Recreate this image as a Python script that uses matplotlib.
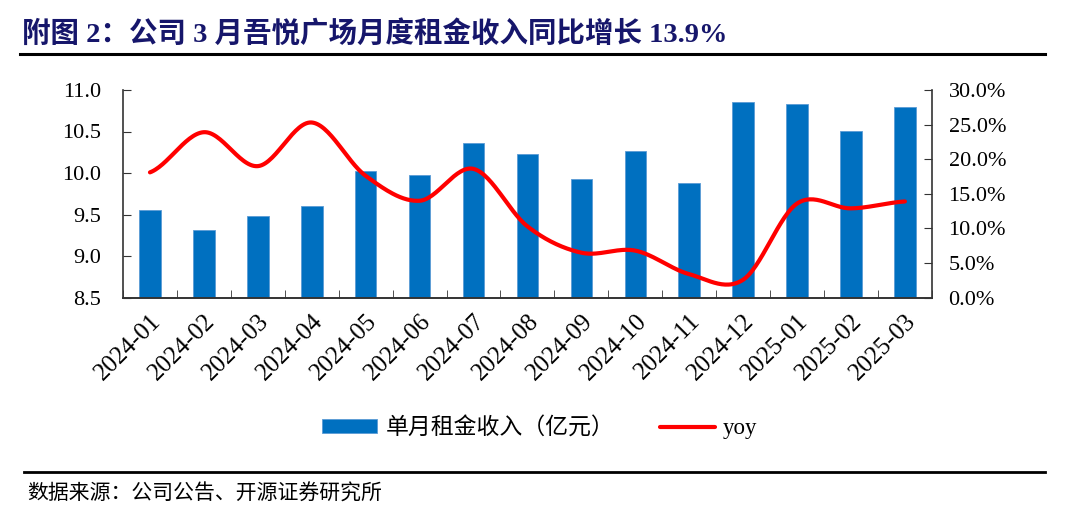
import numpy as np
import matplotlib
matplotlib.use("Agg")
import matplotlib.pyplot as plt
from matplotlib.ticker import FixedLocator, PercentFormatter

# ----- data -----
months = ["2024-01", "2024-02", "2024-03", "2024-04", "2024-05", "2024-06",
          "2024-07", "2024-08", "2024-09", "2024-10", "2024-11", "2024-12",
          "2025-01", "2025-02", "2025-03"]
rent = [9.55, 9.31, 9.48, 9.60, 10.03, 9.98, 10.36, 10.23, 9.93, 10.27,
        9.88, 10.85, 10.83, 10.51, 10.80]
yoy = [18.1, 23.9, 19.0, 25.3, 17.6, 14.0, 18.6, 10.3, 6.5, 6.8,
       3.4, 2.6, 13.6, 12.9, 13.9]

title = "附图 2：公司 3 月吾悦广场月度租金收入同比增长 13.9%"
source = "数据来源：公司公告、开源证券研究所"
bar_label = "单月租金收入（亿元）"
line_label = "yoy"

SERIF = ["Liberation Serif", "Noto Sans CJK SC"]
BLUE = "#0070C0"
RED = "#FF0000"
NAVY = "#16166B"


def smooth(y, n=30):
    """Catmull-Rom curve through the points (Excel style 'smoothed line')."""
    y = np.asarray(y, float)
    x = np.arange(len(y), dtype=float)
    p = np.concatenate([[y[0]], y, [y[-1]]])
    xs, ys = [], []
    t = np.linspace(0, 1, n, endpoint=False)
    for i in range(len(y) - 1):
        p0, p1, p2, p3 = p[i], p[i + 1], p[i + 2], p[i + 3]
        seg = 0.5 * ((2 * p1) + (-p0 + p2) * t + (2 * p0 - 5 * p1 + 4 * p2 - p3) * t ** 2
                     + (-p0 + 3 * p1 - 3 * p2 + p3) * t ** 3)
        xs.append(x[i] + t)
        ys.append(seg)
    xs.append([x[-1]])
    ys.append([y[-1]])
    return np.concatenate(xs), np.concatenate(ys)


fig = plt.figure(figsize=(10.65, 5.26), dpi=100)
ax = fig.add_axes([0.1155, 0.434, 0.7595, 0.395])
ax2 = ax.twinx()

x = np.arange(len(months))
bars = ax.bar(x, rent, width=0.4, color=BLUE, edgecolor="#5B9BD5", linewidth=0.6,
              label=bar_label, zorder=2)
sx, sy = smooth(yoy)
line, = ax2.plot(sx, sy, color=RED, lw=3.0, solid_capstyle="round", label=line_label)

ax.set_xlim(-0.5, len(months) - 0.5)
ax.set_ylim(8.5, 11.0)
ax.set_yticks(np.arange(8.5, 11.01, 0.5))
ax.set_yticklabels([f"{v:.1f}" for v in np.arange(8.5, 11.01, 0.5)])
ax2.set_ylim(0, 30)
ax2.set_yticks(np.arange(0, 30.1, 5))
ax2.yaxis.set_major_formatter(PercentFormatter(decimals=1))

ax.set_xticks(x)
ax.set_xticklabels(months, rotation=45, ha="right", rotation_mode="anchor")
ax.xaxis.set_minor_locator(FixedLocator(np.arange(-0.5, len(months), 1)))
ax.tick_params(axis="x", which="major", length=0, pad=9)
ax.tick_params(axis="x", which="minor", length=6, direction="in", color="#333333")

for a in (ax, ax2):
    a.spines["top"].set_visible(False)
    for s in a.spines.values():
        s.set_color("#333333")
        s.set_linewidth(1.2)
    for lab in a.get_yticklabels():
        lab.set_family(SERIF)
        lab.set_fontsize(16)
for lab in ax.get_xticklabels():
    lab.set_family(SERIF)
    lab.set_fontsize(18)
ax.tick_params(axis="y", direction="in", length=6, color="#333333", pad=16)
ax2.tick_params(axis="y", direction="in", length=6, color="#333333", pad=12)
ax.spines["right"].set_visible(False)
ax2.spines["left"].set_visible(False)

leg = fig.legend([bars, line], [bar_label, line_label], loc="center",
                 bbox_to_anchor=(0.507, 0.186), ncol=2, frameon=False,
                 handlelength=2.4, handleheight=0.6, handletextpad=0.35, columnspacing=2.0,
                 prop={"family": SERIF, "size": 16.5})

fig.text(0.0207, 0.935, title, family=SERIF, fontsize=20.5, fontweight="bold",
         color=NAVY, va="center", ha="left")
fig.add_artist(plt.Line2D([0.019, 0.981], [1 - 54 / 526] * 2, color="black", lw=2.2))
fig.add_artist(plt.Line2D([0.023, 0.981], [1 - 472 / 526] * 2, color="black", lw=2.0))
fig.text(0.0255, 1 - 495 / 526, source, family=SERIF, fontsize=15, va="center", ha="left")

fig.savefig("out.png", dpi=100)
